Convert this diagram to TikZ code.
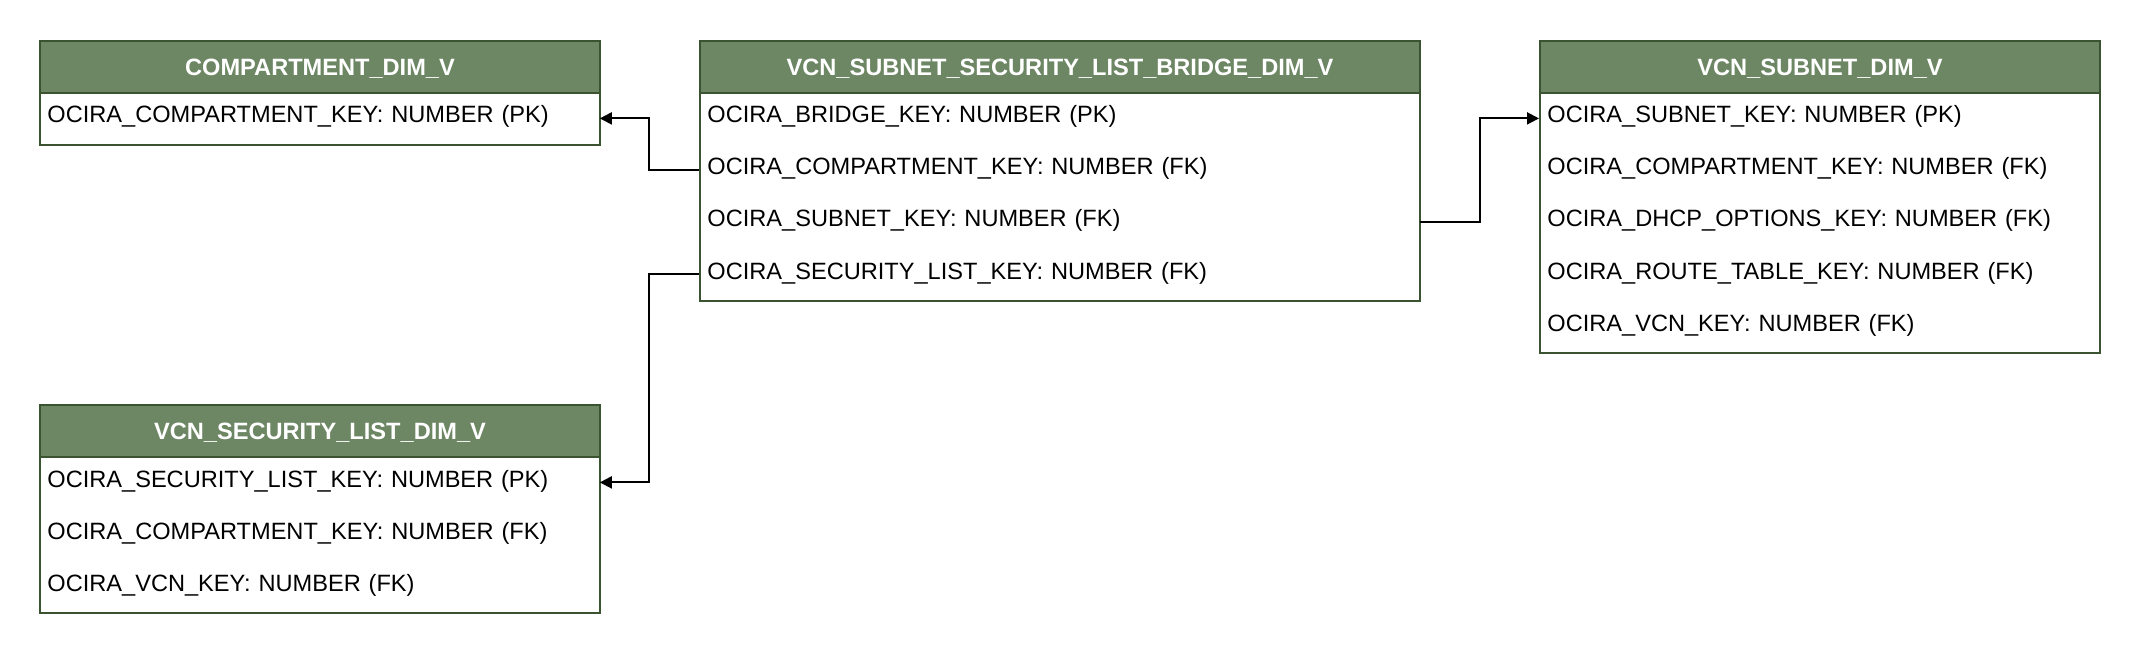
\documentclass[tikz,border=0pt]{standalone}
\usepackage{fontspec}
\setmainfont{Liberation Sans}
\usetikzlibrary{arrows.meta}
\definecolor{hdrfill}{HTML}{6D8764}
\definecolor{hdrline}{HTML}{3A5431}
\begin{document}
\begin{tikzpicture}[x=0.5pt,y=-0.5pt,
  boxbody/.style={draw=hdrline, fill=white, line width=1pt, inner sep=0pt, anchor=north west},
  hdr/.style={draw=hdrline, fill=hdrfill, line width=1pt, text=white,
    font=\bfseries\fontsize{11.8}{14}\selectfont, minimum height=26pt, inner sep=0pt,
    text height=8.5pt, text depth=0pt, anchor=north west},
  row/.style={anchor=north west, minimum height=26pt, inner xsep=4pt, inner ysep=0pt,
    align=left, text width=#1, font=\fontsize{11.8}{14}\selectfont,
    text height=10pt, text depth=5.4pt},
  conn/.style={line width=1pt, -{Triangle[length=6pt,width=6pt]}}
]
\useasboundingbox (0,0) rectangle (2140,652);

% COMPARTMENT_DIM_V
\node[boxbody, minimum width=280pt, minimum height=52pt] (b1) at (39,40) {};
\node[hdr, minimum width=280pt] (b1h) at (39,40) {COMPARTMENT\_DIM\_V};
\node[row=272pt] (b1r1) at (39,92) {OCIRA\_COMPARTMENT\_KEY: NUMBER (PK)};

% VCN_SUBNET_SECURITY_LIST_BRIDGE_DIM_V
\node[boxbody, minimum width=360pt, minimum height=130pt] (b2) at (699,40) {};
\node[hdr, minimum width=360pt] (b2h) at (699,40) {VCN\_SUBNET\_SECURITY\_LIST\_BRIDGE\_DIM\_V};
\node[row=352pt] (b2r1) at (699,92) {OCIRA\_BRIDGE\_KEY: NUMBER (PK)};
\node[row=352pt] (b2r2) at (699,144) {OCIRA\_COMPARTMENT\_KEY: NUMBER (FK)};
\node[row=352pt] (b2r3) at (699,196) {OCIRA\_SUBNET\_KEY: NUMBER (FK)};
\node[row=352pt] (b2r4) at (699,248) {OCIRA\_SECURITY\_LIST\_KEY: NUMBER (FK)};

% VCN_SUBNET_DIM_V
\node[boxbody, minimum width=280pt, minimum height=156pt] (b3) at (1539,40) {};
\node[hdr, minimum width=280pt] (b3h) at (1539,40) {VCN\_SUBNET\_DIM\_V};
\node[row=272pt] (b3r1) at (1539,92) {OCIRA\_SUBNET\_KEY: NUMBER (PK)};
\node[row=272pt] (b3r2) at (1539,144) {OCIRA\_COMPARTMENT\_KEY: NUMBER (FK)};
\node[row=272pt] (b3r3) at (1539,196) {OCIRA\_DHCP\_OPTIONS\_KEY: NUMBER (FK)};
\node[row=272pt] (b3r4) at (1539,248) {OCIRA\_ROUTE\_TABLE\_KEY: NUMBER (FK)};
\node[row=272pt] (b3r5) at (1539,300) {OCIRA\_VCN\_KEY: NUMBER (FK)};

% VCN_SECURITY_LIST_DIM_V
\node[boxbody, minimum width=280pt, minimum height=104pt] (b4) at (39,404) {};
\node[hdr, minimum width=280pt] (b4h) at (39,404) {VCN\_SECURITY\_LIST\_DIM\_V};
\node[row=272pt] (b4r1) at (39,456) {OCIRA\_SECURITY\_LIST\_KEY: NUMBER (PK)};
\node[row=272pt] (b4r2) at (39,508) {OCIRA\_COMPARTMENT\_KEY: NUMBER (FK)};
\node[row=272pt] (b4r3) at (39,560) {OCIRA\_VCN\_KEY: NUMBER (FK)};

% connectors
\draw[conn] (b2r2.west) -- ++(-50,0) |- (b1r1.east);
\draw[conn] (b2r4.west) -- ++(-50,0) |- (b4r1.east);
\draw[conn] (b2r3.east) -- ++(60,0) |- (b3r1.west);
\end{tikzpicture}
\end{document}
